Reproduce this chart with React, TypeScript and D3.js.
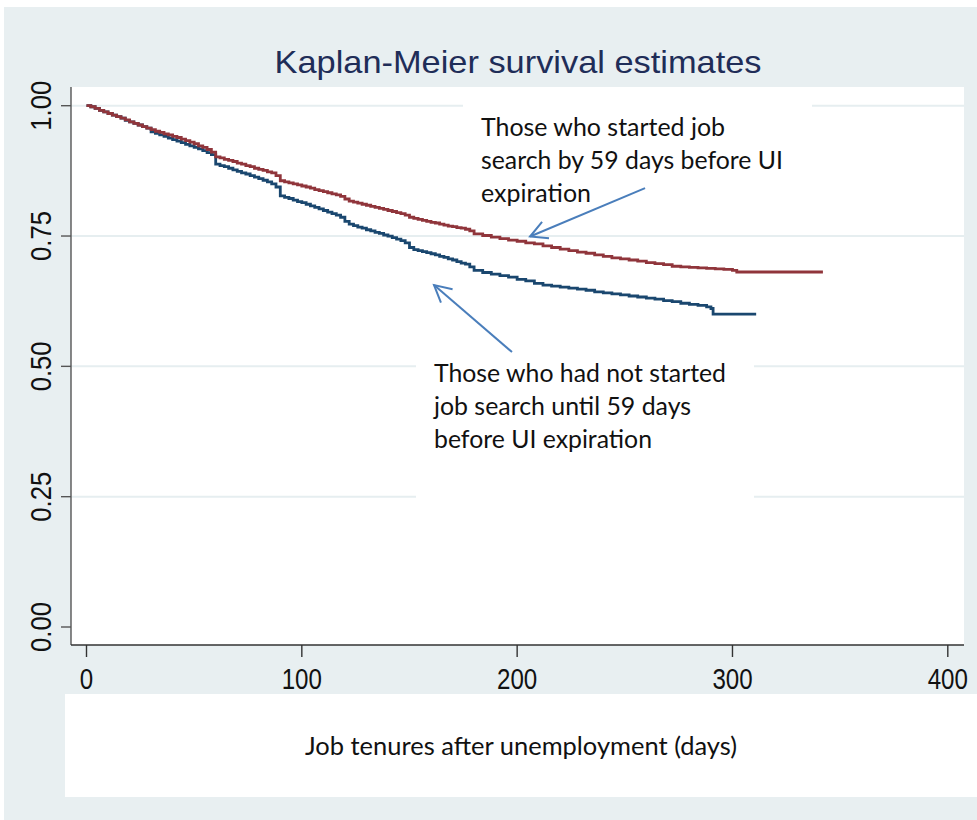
import React from 'react';
import * as d3 from 'd3';

// Kaplan-Meier step points (days, survival)
const startedDays = [
  0, 2, 4, 6, 8, 10, 12, 14, 16, 18, 20, 22, 24, 26, 28, 30, 32, 34, 36, 38, 40, 42, 44, 46, 48, 50, 52, 54, 56, 58,
  60, 62, 64, 66, 68, 70, 72, 74, 76, 78, 80, 82, 84, 86, 88, 90, 92, 94, 96, 98, 100, 102, 104, 106, 108, 110, 112, 114, 116, 118,
  120, 122, 124, 126, 128, 130, 132, 134, 136, 138, 140, 142, 144, 146, 148, 150, 152, 154, 156, 158, 160, 162, 164, 166, 168, 170, 172, 174, 176, 178,
  180, 184, 188, 192, 196, 200, 204, 208, 212, 216, 220, 224, 228, 232, 236, 240, 244, 248, 252, 256, 260, 264, 268, 272, 276, 280, 284, 288, 292, 296, 300, 302, 342,
];
const startedSurv = [
  1.0, 0.998, 0.995, 0.991, 0.988, 0.985, 0.982, 0.979, 0.976, 0.973, 0.969, 0.966, 0.963, 0.96, 0.957, 0.954, 0.951, 0.949, 0.946, 0.944, 0.941, 0.939, 0.936, 0.933, 0.93, 0.927, 0.923, 0.92, 0.916, 0.911,
  0.902, 0.9, 0.897, 0.895, 0.893, 0.89, 0.888, 0.885, 0.883, 0.88, 0.878, 0.876, 0.873, 0.871, 0.866, 0.856, 0.854, 0.852, 0.85, 0.848, 0.846, 0.844, 0.842, 0.839, 0.837, 0.835, 0.833, 0.831, 0.829, 0.826,
  0.821, 0.817, 0.815, 0.813, 0.811, 0.809, 0.807, 0.805, 0.803, 0.801, 0.799, 0.797, 0.795, 0.793, 0.79, 0.786, 0.784, 0.782, 0.78, 0.778, 0.776, 0.775, 0.773, 0.771, 0.769, 0.768, 0.766, 0.765, 0.763, 0.76,
  0.754, 0.751, 0.748, 0.745, 0.742, 0.74, 0.737, 0.735, 0.731, 0.728, 0.725, 0.722, 0.719, 0.717, 0.714, 0.711, 0.708, 0.706, 0.704, 0.702, 0.699, 0.697, 0.695, 0.692, 0.691, 0.69, 0.689, 0.688, 0.687, 0.686, 0.684, 0.681, 0.681,
];

const notStartedDays = [
  0, 2, 4, 6, 8, 10, 12, 14, 16, 18, 20, 22, 24, 26, 28, 30, 32, 34, 36, 38, 40, 42, 44, 46, 48, 50, 52, 54, 56, 58,
  60, 62, 64, 66, 68, 70, 72, 74, 76, 78, 80, 82, 84, 86, 88, 90, 92, 94, 96, 98, 100, 102, 104, 106, 108, 110, 112, 114, 116, 118,
  120, 122, 124, 126, 128, 130, 132, 134, 136, 138, 140, 142, 144, 146, 148, 150, 152, 154, 156, 158, 160, 162, 164, 166, 168, 170, 172, 174, 176, 178,
  180, 184, 188, 192, 196, 200, 204, 208, 212, 216, 220, 224, 228, 232, 236, 240, 244, 248, 252, 256, 260, 264, 268, 272, 276, 280, 284, 288, 290, 291, 311,
];
const notStartedSurv = [
  1.0, 0.998, 0.995, 0.991, 0.988, 0.985, 0.982, 0.979, 0.976, 0.972, 0.969, 0.966, 0.963, 0.96, 0.957, 0.95, 0.947, 0.944, 0.941, 0.938, 0.935, 0.932, 0.929, 0.926, 0.923, 0.92, 0.917, 0.914, 0.91, 0.906,
  0.888, 0.885, 0.883, 0.88, 0.877, 0.874, 0.871, 0.869, 0.866, 0.863, 0.86, 0.857, 0.854, 0.85, 0.844, 0.827, 0.824, 0.822, 0.819, 0.816, 0.814, 0.811, 0.808, 0.805, 0.802, 0.799, 0.796, 0.793, 0.79, 0.786,
  0.778, 0.773, 0.77, 0.767, 0.765, 0.762, 0.76, 0.757, 0.755, 0.752, 0.75, 0.747, 0.744, 0.741, 0.737, 0.728, 0.724, 0.722, 0.72, 0.718, 0.716, 0.714, 0.711, 0.709, 0.706, 0.704, 0.701, 0.698, 0.696, 0.691,
  0.684, 0.68, 0.677, 0.674, 0.671, 0.667, 0.664, 0.659, 0.656, 0.654, 0.652, 0.65, 0.648, 0.646, 0.643, 0.641, 0.639, 0.637, 0.635, 0.633, 0.631, 0.629, 0.626, 0.624, 0.621, 0.619, 0.617, 0.614, 0.611, 0.6, 0.6,
];

const xTicks = [0, 100, 200, 300, 400];
const yTicks = [0, 0.25, 0.5, 0.75, 1];
const yTickLabels = ['0.00', '0.25', '0.50', '0.75', '1.00'];

const labelStarted = ['Those who started job', 'search by 59 days before UI', 'expiration'];
const labelNotStarted = ['Those who had not started', 'job search until 59 days', 'before UI expiration'];

// arrows in data units: [fromDay, fromSurv, toDay, toSurv]
const arrowStarted = [259.4, 0.842, 206, 0.749];
const arrowNotStarted = [197.6, 0.5275, 161.4, 0.656];

const NAVY = '#1a476f';
const MAROON = '#90353b';
const BG = '#e8eff1';
const GRID = '#e6eef0';
const ARROW = '#4a7ebb';
const STATA_FONT = '"Liberation Sans Narrow", "Liberation Sans", Arial, sans-serif';
const NOTE_FONT = 'Lato, "Open Sans", sans-serif';

const x = d3.scaleLinear().domain([0, 400]).range([86.5, 947.8]);
const y = d3.scaleLinear().domain([0, 1]).range([627, 105.7]);

const line = d3
  .line<[number, number]>()
  .x(d => x(d[0]))
  .y(d => y(d[1]))
  .curve(d3.curveStepAfter);

const arrowHead = (a: number[]) => {
  const [x0, y0, x1, y1] = [x(a[0]), y(a[1]), x(a[2]), y(a[3])];
  const ang = Math.atan2(y0 - y1, x0 - x1);
  const len = 19;
  const spread = (28 * Math.PI) / 180;
  const p1 = [x1 + len * Math.cos(ang - spread), y1 + len * Math.sin(ang - spread)];
  const p2 = [x1 + len * Math.cos(ang + spread), y1 + len * Math.sin(ang + spread)];
  return {
    shaft: `M${x0},${y0}L${x1},${y1}`,
    head: `M${p1[0]},${p1[1]}L${x1},${y1}L${p2[0]},${p2[1]}`,
  };
};

const App = () => {
  const plotLeft = 71;
  const plotRight = 964;
  const plotTop = 87;
  const plotBottom = 645;

  const started = d3.zip(startedDays, startedSurv) as [number, number][];
  const notStarted = d3.zip(notStartedDays, notStartedSurv) as [number, number][];
  const a1 = arrowHead(arrowStarted);
  const a2 = arrowHead(arrowNotStarted);

  return (
    <svg width={977} height={820} style={{ position: 'absolute', left: 0, top: 0 }}>
      <rect width={977} height={820} fill="#fff" />
      <rect x={4} y={7} width={973} height={813} fill={BG} />

      {/* plot region */}
      <rect x={plotLeft} y={plotTop} width={plotRight - plotLeft} height={plotBottom - plotTop} fill="#fff" />
      {yTicks.filter(t => t > 0).map(t => (
        <line key={t} x1={plotLeft} x2={plotRight} y1={y(t)} y2={y(t)} stroke={GRID} strokeWidth={2} />
      ))}

      {/* white boxes behind the notes */}
      <rect x={463} y={95} width={349} height={120} fill="#fff" />
      <rect x={416} y={356} width={338} height={150} fill="#fff" />

      <path d={line(notStarted) ?? ''} fill="none" stroke={NAVY} strokeWidth={2.8} />
      <path d={line(started) ?? ''} fill="none" stroke={MAROON} strokeWidth={2.8} />

      {/* axes */}
      <line x1={plotLeft} x2={plotLeft} y1={plotTop} y2={plotBottom} stroke="#555" strokeWidth={1.4} />
      <line x1={plotLeft} x2={plotRight} y1={plotBottom} y2={plotBottom} stroke="#333" strokeWidth={1.4} />
      {yTicks.map((t, i) => (
        <g key={t}>
          <line x1={61} x2={plotLeft} y1={y(t)} y2={y(t)} stroke="#555" strokeWidth={1.4} />
          <text
            transform={`translate(51,${y(t)}) rotate(-90)`}
            textAnchor="middle"
            fontFamily={STATA_FONT}
            fontSize={29}
            textLength={50}
            lengthAdjust="spacingAndGlyphs"
            fill="#111"
          >
            {yTickLabels[i]}
          </text>
        </g>
      ))}
      {xTicks.map(t => (
        <g key={t}>
          <line x1={x(t)} x2={x(t)} y1={plotBottom} y2={657} stroke="#333" strokeWidth={1.4} />
          <text
            x={x(t)}
            y={689}
            textAnchor="middle"
            fontFamily={STATA_FONT}
            fontSize={29}
            textLength={String(t).length * 13.4}
            lengthAdjust="spacingAndGlyphs"
            fill="#111"
          >
            {t}
          </text>
        </g>
      ))}

      {/* x title box */}
      <rect x={65} y={694} width={912} height={103} fill="#fff" />
      <text
        x={521}
        y={755}
        textAnchor="middle"
        fontFamily={NOTE_FONT}
        fontSize={25}
        textLength={432}
        lengthAdjust="spacingAndGlyphs"
        fill="#111"
      >
        Job tenures after unemployment (days)
      </text>

      {/* title */}
      <text
        x={518}
        y={73}
        textAnchor="middle"
        fontFamily={STATA_FONT}
        fontSize={32}
        textLength={487}
        lengthAdjust="spacingAndGlyphs"
        fill="#1f2d58"
      >
        Kaplan-Meier survival estimates
      </text>

      {/* notes */}
      {labelStarted.map((s, i) => (
        <text
          key={s}
          x={481}
          y={136 + i * 33}
          fontFamily={NOTE_FONT}
          fontSize={25}
          textLength={[244, 302, 110][i]}
          lengthAdjust="spacingAndGlyphs"
          fill="#111"
        >
          {s}
        </text>
      ))}
      {labelNotStarted.map((s, i) => (
        <text
          key={s}
          x={434}
          y={382 + i * 33}
          fontFamily={NOTE_FONT}
          fontSize={25}
          textLength={[292, 257, 218][i]}
          lengthAdjust="spacingAndGlyphs"
          fill="#111"
        >
          {s}
        </text>
      ))}

      {[a1, a2].map((a, i) => (
        <g key={i} fill="none" stroke={ARROW} strokeWidth={2}>
          <path d={a.shaft} />
          <path d={a.head} />
        </g>
      ))}
    </svg>
  );
};

export default App;
